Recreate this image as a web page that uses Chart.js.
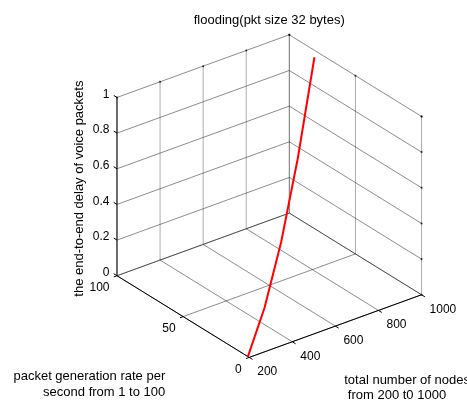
<!DOCTYPE html>
<html><head><meta charset="utf-8">
<script src="https://cdn.jsdelivr.net/npm/chart.js@4/dist/chart.umd.min.js"></script>
<style>html,body{margin:0;padding:0;background:#fff;overflow:hidden}#wrap{width:467px;height:407px;position:relative}</style>
</head><body><div id="wrap"><canvas id="c" width="467" height="407"></canvas></div>
<script>
// ---- data ----
const nodes = [200, 400, 600, 800, 1000];
const rate = [1, 21, 41, 61, 81];
const delay = [0, 0.094, 0.284, 0.574, 0.961];
const nodeTicks = [200, 400, 600, 800, 1000];
const rateTicks = [0, 50, 100];
const delayTicks = [0, 0.2, 0.4, 0.6, 0.8, 1];
const nodeTickLabels = ['200', '400', '600', '800', '1000'];
const rateTickLabels = ['0', '50', '100'];
const delayTickLabels = ['0', '0.2', '0.4', '0.6', '0.8', '1'];
const titleText = 'flooding(pkt size 32 bytes)';
const zLabel = 'the end-to-end delay of voice packets';
const xLabel = ['total number of nodes', ' from 200 t0 1000'];
const yLabel = ['packet generation rate per', 'second from 1 to 100'];

// ---- 3D view (layout) ----
const NR = [200, 1000], RR = [0, 100], ZR = [0, 1];
const VIEW = {az: -37.5, el: 30, hs: 221, vs: 210, ox: 249.5, oy: 360.5};
function proj(n, r, z) {
  const u = (n - NR[0]) / (NR[1] - NR[0]);
  const v = (r - RR[0]) / (RR[1] - RR[0]);
  const w = (z - ZR[0]) / (ZR[1] - ZR[0]);
  const a = VIEW.az * Math.PI / 180, e = VIEW.el * Math.PI / 180;
  const x = VIEW.ox + VIEW.hs * (u * Math.cos(a) + v * Math.sin(a));
  const up = VIEW.vs * (-u * Math.sin(a) * Math.sin(e) + v * Math.cos(a) * Math.sin(e) + w * Math.cos(e));
  return {x: x, y: VIEW.oy - up};
}

const datasets = [];
function seg(p, q, color, width, order, dash) {
  datasets.push({data: [proj(...p), proj(...q)], showLine: true, borderColor: color,
    borderWidth: width, pointRadius: 0, order: order, borderDash: dash || [], tension: 0});
}
const GRID = 'rgba(0,0,0,0.45)', GRIDV = 'rgba(0,0,0,0.32)';
const n0 = NR[0], n1 = NR[1], r0 = RR[0], r1 = RR[1], z0 = ZR[0], z1 = ZR[1];
// back-left wall (rate = max)
delayTicks.forEach(z => seg([n0, r1, z], [n1, r1, z], GRID, 1, 3));
nodeTicks.forEach(n => seg([n, r1, z0], [n, r1, z1], GRIDV, 1, 3));
// back-right wall (nodes = max)
delayTicks.forEach(z => seg([n1, r0, z], [n1, r1, z], GRID, 1, 3));
rateTicks.forEach(r => seg([n1, r, z0], [n1, r, z1], GRIDV, 1, 3));
// floor
nodeTicks.forEach(n => seg([n, r0, z0], [n, r1, z0], GRID, 1, 3));
rateTicks.forEach(r => seg([n0, r, z0], [n1, r, z0], GRID, 1, 3));
// axes
const AX = '#000';
seg([n0, r1, z0], [n0, r1, z1], AX, 1, 2);
seg([n0, r0, z0], [n0, r1, z0], AX, 1, 2);
seg([n0, r0, z0], [n1, r0, z0], AX, 1, 2);
// tick marks
delayTicks.forEach(z => seg([n0, r1, z], [n0, r1 + 2.5, z], AX, 1, 2));
rateTicks.forEach(r => seg([n0, r, z0], [n0 - 15, r, z0], AX, 1, 2));
nodeTicks.forEach(n => seg([n, r0, z0], [n, r0 - 2.5, z0], AX, 1, 2));
// small marks at the far ends of grid lines
const dots = [];
nodeTicks.forEach(n => dots.push(proj(n, r1, z1)));
delayTicks.forEach(z => dots.push(proj(n1, r0, z)));
rateTicks.forEach(r => dots.push(proj(n1, r, z1)));
datasets.push({data: dots, showLine: false, pointRadius: 1, pointBorderWidth: 0,
  pointBackgroundColor: 'rgba(0,0,0,0.8)', order: 2});
// data series
datasets.push({data: nodes.map((n, i) => proj(n, rate[i], delay[i])), showLine: true,
  borderColor: '#ff0000', borderWidth: 2, pointRadius: 0, order: 0, tension: 0});

// ---- text plugin ----
const textPlugin = {
  id: 'text3d',
  afterDatasetsDraw(chart) {
    const ctx = chart.ctx, sx = chart.scales.x, sy = chart.scales.y;
    const P = (n, r, z) => { const p = proj(n, r, z); return {x: sx.getPixelForValue(p.x), y: sy.getPixelForValue(p.y)}; };
    ctx.save();
    ctx.fillStyle = '#000';
    ctx.font = '12px "Liberation Sans", Arial, sans-serif';
    ctx.textBaseline = 'middle';
    ctx.textAlign = 'right';
    delayTicks.forEach((z, i) => { const p = P(n0, r1, z); ctx.fillText(delayTickLabels[i], p.x - 7.5, p.y - 3); });
    rateTicks.forEach((r, i) => { const p = P(n0, r, z0); ctx.fillText(rateTickLabels[i], p.x - 7.5, p.y + 12); });
    ctx.textAlign = 'left';
    nodeTicks.forEach((n, i) => { const p = P(n, r0, z0); ctx.fillText(nodeTickLabels[i], p.x + 8, p.y + 14.5); });
    ctx.font = '13px "Liberation Sans", Arial, sans-serif';
    // title
    const c = P(n1, r1, z1), L = P(n0, r1, z0), R = P(n1, r0, z0);
    ctx.textAlign = 'center';
    ctx.textBaseline = 'alphabetic';
    ctx.fillText(titleText, (L.x + R.x) / 2, c.y - 11);
    // z label
    const zc = P(n0, r1, (z0 + z1) / 2);
    ctx.save();
    ctx.translate(zc.x - 38, zc.y + 2);
    ctx.rotate(-Math.PI / 2);
    ctx.textBaseline = 'middle';
    ctx.fillText(zLabel, 0, 0);
    ctx.restore();
    // rate label (front-left)
    ctx.textAlign = 'right';
    ctx.textBaseline = 'middle';
    const o = P(n0, r0, z0);
    yLabel.forEach((t, i) => ctx.fillText(t, o.x - 84, o.y + 19 + i * 16));
    // nodes label (front-right)
    ctx.textAlign = 'left';
    xLabel.forEach((t, i) => ctx.fillText(t, o.x + 95, o.y + 23 + i * 15));
    ctx.restore();
  }
};

new Chart(document.getElementById('c'), {
  type: 'scatter',
  data: {datasets: datasets},
  options: {
    responsive: false, animation: false, events: [],
    layout: {padding: 0},
    plugins: {legend: {display: false}, tooltip: {enabled: false}, title: {display: false}},
    scales: {
      x: {type: 'linear', min: 0, max: 467, display: false},
      y: {type: 'linear', min: 0, max: 407, reverse: true, display: false}
    }
  },
  plugins: [textPlugin]
});
</script></body></html>
